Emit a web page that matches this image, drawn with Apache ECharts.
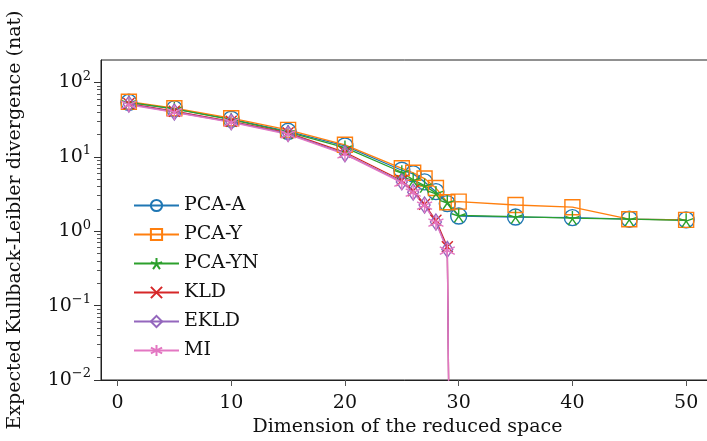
<!DOCTYPE html>
<html>
<head>
<meta charset="utf-8">
<script src="https://cdn.jsdelivr.net/npm/echarts@6/dist/echarts.min.js"></script>
<style>
  html, body { margin: 0; padding: 0; background: #fff; }
  #chart { width: 707px; height: 441px; }
</style>
</head>
<body>
<div id="chart"></div>
<script>
  // dimensions
  var dimsPca = [1, 5, 10, 15, 20, 25, 26, 27, 28, 29, 30, 35, 40, 45, 50];
  var dimsKl = [1, 5, 10, 15, 20, 25, 26, 27, 28, 29, 30];

  var pcaA = [54, 44, 32, 22, 14, 6.6, 5.9, 4.6, 3.4, 2.35, 1.6, 1.55, 1.52, 1.45, 1.42];
  var pcaY = [55, 45, 33, 23, 14.5, 7.0, 6.1, 5.1, 3.8, 2.45, 2.5, 2.25, 2.1, 1.45, 1.42];
  var pcaYN = [54, 44, 31.5, 21.5, 13.3, 6.2, 4.9, 4.1, 3.25, 2.45, 1.63, 1.57, 1.5, 1.45, 1.4];
  // the last point falls to ~machine precision, far below the axis
  var kld = [52, 41, 30, 21, 11.5, 4.8, 3.5, 2.3, 1.4, 0.62, 1e-16];
  var ekld = [51, 40, 29.5, 20.5, 11, 4.6, 3.35, 2.25, 1.33, 0.57, 1e-16];
  var mi = [50, 39.5, 29, 20, 10.8, 4.5, 3.3, 2.2, 1.3, 0.55, 1e-16];

  var xTicks = [0, 10, 20, 30, 40, 50];
  var yTicks = [0.01, 0.1, 1, 10, 100];

  var font = 'DejaVu Serif';

  function pairs(xs, ys) {
    return xs.map(function (x, i) { return [x, ys[i]]; });
  }

  var markers = {
    circle: 'circle',
    square: 'rect',
    star: 'path://M0 0L0 -1M0 0L-0.951 -0.309M0 0L-0.588 0.809M0 0L0.588 0.809M0 0L0.951 -0.309',
    cross: 'path://M-1 -1L1 1M-1 1L1 -1',
    diamond: 'path://M0 -1L0.62 0L0 1L-0.62 0Z',
    asterisk: 'path://M0 -1L0 1M-0.866 -0.5L0.866 0.5M-0.866 0.5L0.866 -0.5'
  };

  function makeSeries(name, xs, ys, color, symbol, size) {
    return {
      name: name,
      type: 'line',
      data: pairs(xs, ys),
      symbol: symbol,
      symbolSize: size,
      showAllSymbol: true,
      clip: true,
      lineStyle: { color: color, width: 1.3 },
      itemStyle: { color: 'none', borderColor: color, borderWidth: 1.4 },
      emphasis: { disabled: true }
    };
  }

  function powerLabel(v) {
    var e = Math.round(Math.log10(v));
    return '10{sup|' + (e < 0 ? '\u2212' + (-e) : e) + '}';
  }

  var chart = echarts.init(document.getElementById('chart'), null, { renderer: 'canvas' });
  chart.setOption({
    animation: false,
    textStyle: { fontFamily: font },
    grid: {
      left: 101, top: 60, right: -7, bottom: 61,
      outerBoundsMode: 'none',
      show: true, borderColor: '#222', borderWidth: 1
    },
    legend: {
      orient: 'vertical',
      left: 128, top: 191,
      itemWidth: 45, itemHeight: 14, itemGap: 10,
      textStyle: { fontFamily: font, fontSize: 19, color: '#111' },
      data: ['PCA-A', 'PCA-Y', 'PCA-YN', 'KLD', 'EKLD', 'MI']
    },
    xAxis: {
      type: 'value',
      min: -1.45, max: 52.45,
      name: 'Dimension of the reduced space',
      nameLocation: 'middle',
      nameGap: 37,
      nameTextStyle: { fontFamily: font, fontSize: 19, color: '#111' },
      axisLine: { show: true, onZero: false, lineStyle: { color: '#222', width: 1 } },
      splitLine: { show: false },
      axisTick: { show: true, length: 6, lineStyle: { color: '#555', width: 1 }, customValues: xTicks },
      axisLabel: { fontFamily: font, fontSize: 19, color: '#111', margin: 14, customValues: xTicks }
    },
    yAxis: {
      type: 'log',
      min: 0.01, max: 200,
      name: 'Expected Kullback-Leibler divergence (nat)',
      nameLocation: 'middle',
      nameGap: 76,
      nameTextStyle: { fontFamily: font, fontSize: 19, color: '#111' },
      axisLine: { show: true, onZero: false, lineStyle: { color: '#222', width: 1 } },
      splitLine: { show: false },
      axisTick: { show: true, length: 7, lineStyle: { color: '#333', width: 1 }, customValues: yTicks },
      minorTick: { show: true, splitNumber: 9, length: 4, lineStyle: { color: '#555', width: 1 } },
      axisLabel: {
        customValues: yTicks,
        margin: 10,
        formatter: powerLabel,
        fontFamily: font, fontSize: 19, color: '#111',
        rich: {
          sup: { fontFamily: font, fontSize: 13, color: '#111', verticalAlign: 'bottom', padding: [0, 0, 12, 0] }
        }
      }
    },
    series: [
      makeSeries('PCA-A', dimsPca, pcaA, '#1f77b4', markers.circle, 16),
      makeSeries('PCA-Y', dimsPca, pcaY, '#ff7f0e', markers.square, 15),
      makeSeries('PCA-YN', dimsPca, pcaYN, '#2ca02c', markers.star, 14),
      makeSeries('KLD', dimsKl, kld, '#d62728', markers.cross, 11),
      makeSeries('EKLD', dimsKl, ekld, '#9467bd', markers.diamond, [11, 16]),
      makeSeries('MI', dimsKl, mi, '#e377c2', markers.asterisk, 15)
    ]
  });
</script>
</body>
</html>
